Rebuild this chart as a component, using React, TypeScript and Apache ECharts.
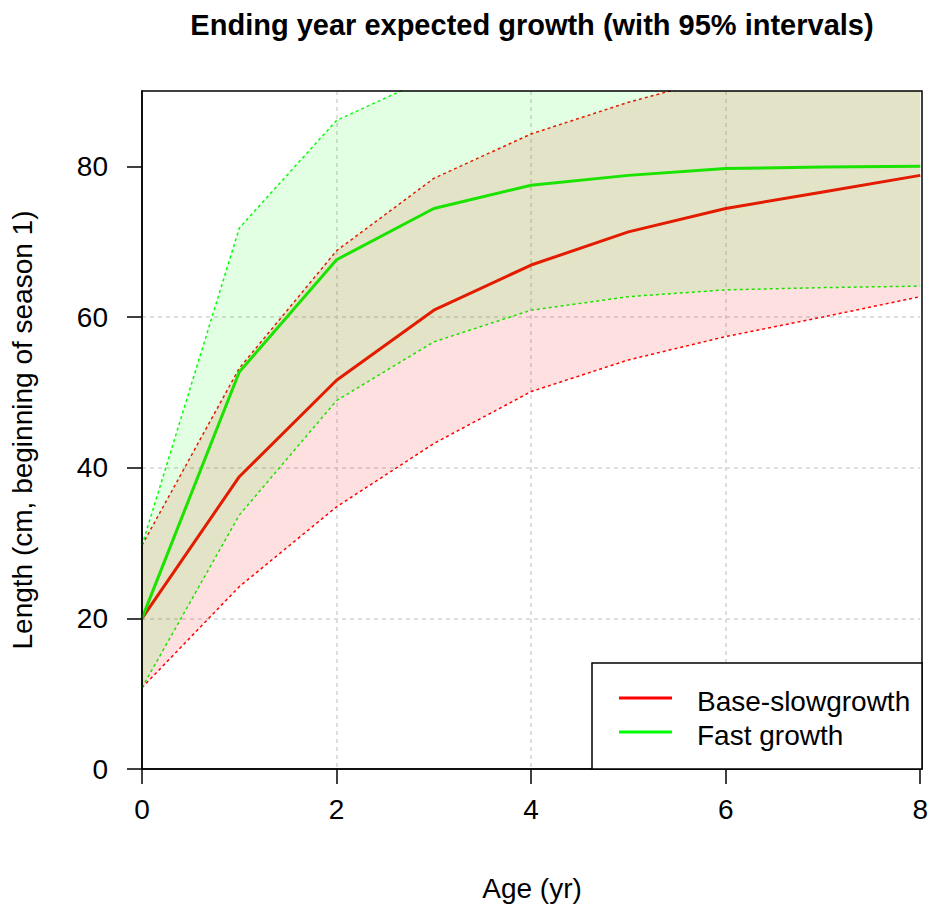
import React, { useEffect, useRef } from "react";
import * as echarts from "echarts";

const FONT = "'Liberation Sans', Arial, Helvetica, sans-serif";

// Ages (yr)
const ages = [0, 1, 2, 3, 4, 5, 6, 7, 8];

// Base-slowgrowth: expected length and 95% interval
const baseMean = [20, 38.8, 51.6, 60.9, 66.9, 71.3, 74.4, 76.6, 78.8];
const baseLower = [10.8, 24.2, 34.8, 43.2, 50.1, 54.3, 57.4, 60.0, 62.7];
const baseUpper = [29.7, 53.2, 68.8, 78.4, 84.3, 88.5, 92.0, 93.6, 95.0];

// Fast growth: expected length and 95% interval
const fastMean = [20, 52.7, 67.6, 74.4, 77.5, 78.8, 79.7, 79.9, 80.0];
const fastLower = [10.8, 33.7, 48.9, 56.7, 60.9, 62.7, 63.6, 63.9, 64.1];
const fastUpper = [29.7, 71.8, 86.1, 92.0, 94.1, 94.9, 95.8, 95.9, 95.9];

// Axis ticks
const xTicks = [0, 2, 4, 6, 8];
const yTicks = [0, 20, 40, 60, 80];

const seriesNames = ["Base-slowgrowth", "Fast growth"];
const RED = "#ff0000";
const GREEN = "#00ff00";

const pairs = (ys: number[]) => ages.map((a, i) => [a, ys[i]]);

export default function App() {
  const ref = useRef<HTMLDivElement>(null);

  useEffect(() => {
    document.body.style.margin = "0";
    document.body.style.overflow = "hidden";
    if (!ref.current) return;
    const chart = echarts.init(ref.current, null, { renderer: "svg" });

    const plotLeft = 142;
    const plotTop = 91;
    const plotRight = 922;
    const plotBottom = 769;
    const plotCx = (plotLeft + plotRight) / 2;
    const plotCy = (plotTop + plotBottom) / 2;

    const meanLine = (name: string, ys: number[], color: string) => ({
      type: "line",
      name,
      data: pairs(ys),
      symbol: "none",
      lineStyle: { color, width: 3 },
      z: 2,
      silent: true,
    });
    const dotLine = (name: string, ys: number[], color: string) => ({
      type: "line",
      name,
      data: pairs(ys),
      symbol: "none",
      lineStyle: { color, width: 1.5, type: [3, 3] },
      z: 2,
      silent: true,
    });
    const band = (name: string, lo: number[], hi: number[], fill: string) => ({
      type: "custom",
      name,
      clip: true,
      silent: true,
      z: 3,
      data: ages.map((a, i) => [a, lo[i], hi[i]]),
      encode: { x: 0, y: [1, 2] },
      renderItem: (params: any, api: any) => {
        if (params.dataIndex !== 0) return null;
        const top = ages.map((a, i) => api.coord([a, hi[i]]));
        const bottom = ages
          .map((a, i) => api.coord([a, lo[i]]))
          .reverse();
        return {
          type: "polygon",
          shape: { points: top.concat(bottom) },
          style: { fill, stroke: "none" },
        };
      },
    });

    const legendX = 592;
    const legendY = 663;
    const legendW = plotRight - legendX;
    const legendH = plotBottom - legendY;

    const splitLine = {
      show: true,
      showMinLine: false,
      showMaxLine: false,
      lineStyle: { color: "#d3d3d3", type: [4, 4], width: 1.5 },
    };

    const option = {
      animation: false,
      backgroundColor: "#ffffff",
      textStyle: { fontFamily: FONT },
      grid: {
        left: plotLeft,
        top: plotTop,
        right: 931 - plotRight,
        bottom: 910 - plotBottom,
        show: false,
      },
      xAxis: {
        type: "value",
        min: 0,
        max: 8,
        interval: 2,
        axisLine: { show: true, lineStyle: { color: "#000", width: 1.5 } },
        axisTick: {
          show: true,
          length: 15,
          customValues: xTicks,
          lineStyle: { color: "#000", width: 1.5 },
        },
        axisLabel: {
          fontSize: 28,
          color: "#000",
          margin: 26,
          fontFamily: FONT,
          customValues: xTicks,
        },
        splitLine,
      },
      yAxis: {
        type: "value",
        min: 0,
        max: 90,
        interval: 20,
        axisLine: { show: true, lineStyle: { color: "#000", width: 1.5 } },
        axisTick: {
          show: true,
          length: 15,
          customValues: yTicks,
          lineStyle: { color: "#000", width: 1.5 },
        },
        axisLabel: {
          fontSize: 28,
          color: "#000",
          margin: 34,
          fontFamily: FONT,
          customValues: yTicks,
        },
        splitLine,
      },
      series: [
        meanLine(seriesNames[0], baseMean, RED),
        dotLine(seriesNames[0] + " upper", baseUpper, RED),
        dotLine(seriesNames[0] + " lower", baseLower, RED),
        meanLine(seriesNames[1], fastMean, GREEN),
        dotLine(seriesNames[1] + " upper", fastUpper, GREEN),
        dotLine(seriesNames[1] + " lower", fastLower, GREEN),
        band("base-band", baseLower, baseUpper, "rgba(255,0,0,0.12)"),
        band("fast-band", fastLower, fastUpper, "rgba(0,255,0,0.11)"),
      ],
      graphic: [
        {
          type: "rect",
          z: 99,
          silent: true,
          shape: {
            x: plotLeft,
            y: plotTop,
            width: plotRight - plotLeft,
            height: plotBottom - plotTop,
          },
          style: { fill: "none", stroke: "#000", lineWidth: 1.5 },
        },
        {
          type: "text",
          x: plotCx,
          y: 25,
          z: 100,
          style: {
            text: "Ending year expected growth (with 95% intervals)",
            fontFamily: FONT,
            fontSize: 29,
            fontWeight: "bold",
            fill: "#000",
            textAlign: "center",
            textVerticalAlign: "middle",
          },
        },
        {
          type: "text",
          x: plotCx,
          y: 888,
          z: 100,
          style: {
            text: "Age (yr)",
            fontFamily: FONT,
            fontSize: 28,
            fill: "#000",
            textAlign: "center",
            textVerticalAlign: "middle",
          },
        },
        {
          type: "text",
          x: 22,
          y: plotCy,
          rotation: Math.PI / 2,
          z: 100,
          style: {
            text: "Length (cm, beginning of season 1)",
            fontFamily: FONT,
            fontSize: 28,
            fill: "#000",
            textAlign: "center",
            textVerticalAlign: "middle",
          },
        },
        {
          type: "rect",
          z: 100,
          shape: { x: legendX, y: legendY, width: legendW, height: legendH },
          style: { fill: "#fff", stroke: "#000", lineWidth: 1.5 },
        },
        {
          type: "line",
          z: 101,
          shape: { x1: 619, y1: 698, x2: 672, y2: 698 },
          style: { stroke: RED, lineWidth: 3 },
        },
        {
          type: "line",
          z: 101,
          shape: { x1: 619, y1: 732, x2: 672, y2: 732 },
          style: { stroke: GREEN, lineWidth: 3 },
        },
        {
          type: "text",
          x: 697,
          y: 701,
          z: 101,
          style: {
            text: seriesNames[0],
            fontFamily: FONT,
            fontSize: 28,
            fill: "#000",
            textAlign: "left",
            textVerticalAlign: "middle",
          },
        },
        {
          type: "text",
          x: 697,
          y: 735,
          z: 101,
          style: {
            text: seriesNames[1],
            fontFamily: FONT,
            fontSize: 28,
            fill: "#000",
            textAlign: "left",
            textVerticalAlign: "middle",
          },
        },
      ],
    };

    chart.setOption(option as any);
    return () => {
      chart.dispose();
    };
  }, []);

  return <div ref={ref} style={{ width: 931, height: 910 }} />;
}
